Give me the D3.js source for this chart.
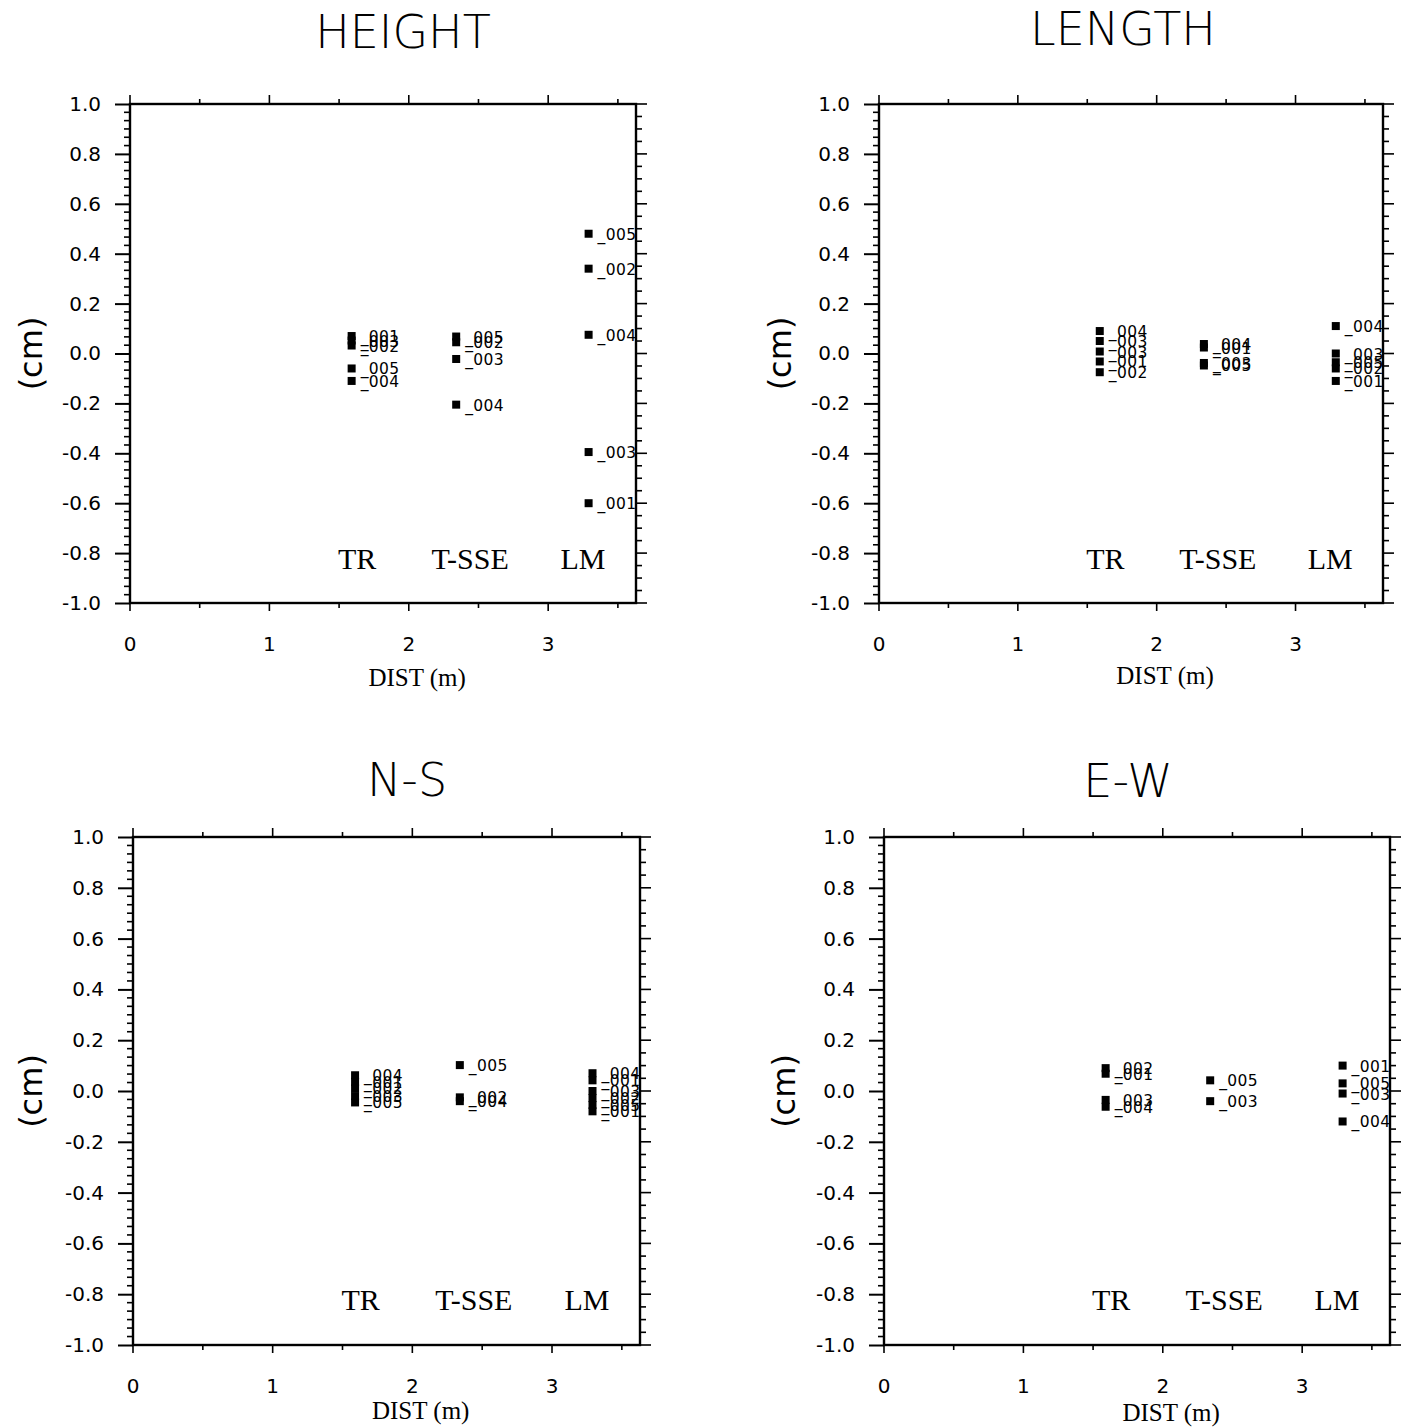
<!DOCTYPE html>
<html>
<head>
<meta charset="utf-8">
<script src="https://cdn.jsdelivr.net/npm/d3@7"></script>
<style>
  html, body { margin: 0; padding: 0; background: #fff; }
  svg { display: block; }
</style>
</head>
<body>
<svg id="chart" width="1412" height="1427"></svg>
<script>
// ---------------- DATA ----------------
const panelTitles = ["HEIGHT", "LENGTH", "N-S", "E-W"];
const categories = ["TR", "T-SSE", "LM"];
const stationX = [1.59, 2.34, 3.29];          // DIST (m) of each station
const categoryLabelX = [1.63, 2.44, 3.25];    // where the station names are written
const categoryLabelY = -0.82;
const yTicks = [1.0, 0.8, 0.6, 0.4, 0.2, 0.0, -0.2, -0.4, -0.6, -0.8, -1.0];
const xTicks = [0, 1, 2, 3];
const xDomain = [0, 3.63];
const yDomain = [-1, 1];

// values (cm) per station [TR, T-SSE, LM]
const heightValues = [[0.07, 0.052, 0.032, -0.06, -0.11], [0.068, 0.045, -0.022, -0.205], [0.48, 0.34, 0.075, -0.395, -0.6]];
const heightLabels = [["_001", "_003", "_002", "_005", "_004"], ["_005", "_002", "_003", "_004"], ["_005", "_002", "_004", "_003", "_001"]];

const lengthValues = [[0.09, 0.05, 0.008, -0.032, -0.075], [0.038, 0.024, -0.038, -0.048], [0.11, 0.0, -0.035, -0.06, -0.11]];
const lengthLabels = [["_004", "_003", "_003", "_001", "_002"], ["_004", "_001", "_003", "_005"], ["_004", "_003", "_005", "_002", "_001"]];

const nsValues = [[0.062, 0.036, 0.01, -0.02, -0.045], [0.102, -0.025, -0.04], [0.07, 0.042, 0.0, -0.028, -0.055, -0.08]];
const nsLabels = [["_004", "_001", "_002", "_003", "_005"], ["_005", "_002", "_004"], ["_004", "_001", "_003", "_002", "_005", "_001"]];

const ewValues = [[0.09, 0.068, -0.035, -0.062], [0.042, -0.04], [0.1, 0.03, -0.01, -0.12]];
const ewLabels = [["_002", "_001", "_003", "_004"], ["_005", "_003"], ["_001", "_005", "_003", "_004"]];

const panelValues = [heightValues, lengthValues, nsValues, ewValues];
const panelLabels = [heightLabels, lengthLabels, nsLabels, ewLabels];

// ---------------- LAYOUT ----------------
const layout = [
  { left: 130, right: 636, top: 104, bottom: 603, titleX: 403, titleY: 48, cmX: 31, distDy: 83 },
  { left: 879, right: 1383, top: 104, bottom: 603, titleX: 1123, titleY: 45, cmX: 780, distDy: 81 },
  { left: 133, right: 640, top: 837, bottom: 1345, titleX: 407, titleY: 796, cmX: 31, distDy: 74 },
  { left: 884, right: 1390, top: 837, bottom: 1345, titleX: 1128, titleY: 797, cmX: 784, distDy: 76 }
];

const svg = d3.select("#chart");
const SANS = "'DejaVu Sans', Arial, sans-serif";
const SERIF = "'Liberation Serif', 'Times New Roman', serif";
const INK = "#000";

layout.forEach((L, pi) => {
  const x = d3.scaleLinear().domain(xDomain).range([L.left, L.right]);
  const y = d3.scaleLinear().domain(yDomain).range([L.bottom, L.top]);
  const g = svg.append("g");

  // title
  g.append("text").attr("x", L.titleX).attr("y", L.titleY)
    .attr("text-anchor", "middle").attr("font-family", SANS).attr("font-weight", 200)
    .attr("font-size", 46).attr("fill", INK).text(panelTitles[pi]);

  // y label
  g.append("text")
    .attr("transform", `translate(${L.cmX + 11},${(L.top + L.bottom) / 2}) rotate(-90)`)
    .attr("text-anchor", "middle").attr("font-family", SANS).attr("font-size", 32)
    .attr("fill", INK).text("(cm)");

  // left axis major ticks + labels
  const axL = d3.axisLeft(y).tickValues(yTicks).tickSize(15).tickPadding(14)
    .tickFormat(d => d.toFixed(1));
  const gl = g.append("g").attr("transform", `translate(${L.left},0)`).call(axL);
  gl.select(".domain").remove();
  gl.selectAll("line").attr("stroke", INK).attr("stroke-width", 2);
  gl.selectAll("text").attr("font-family", SANS).attr("font-size", 20).attr("fill", INK);

  // left minor ticks (6 intervals per 0.2)
  const leftMinor = d3.range(-1, 1.0001, 0.2 / 6).filter(v => Math.abs(Math.round(v * 5) - v * 5) > 0.01);
  g.selectAll(null).data(leftMinor).join("line")
    .attr("x1", L.left - 6).attr("x2", L.left)
    .attr("y1", d => y(d)).attr("y2", d => y(d))
    .attr("stroke", INK).attr("stroke-width", 1.6);

  // right axis ticks (major every 0.2, minor every 0.05)
  const rightTicks = d3.range(-1, 1.0001, 0.05);
  g.selectAll(null).data(rightTicks).join("line")
    .attr("x1", L.right)
    .attr("x2", d => L.right + (Math.abs(Math.round(d * 5) - d * 5) < 0.01 ? 11 : 6))
    .attr("y1", d => y(d)).attr("y2", d => y(d))
    .attr("stroke", INK).attr("stroke-width", 1.6);

  // top / bottom minor ticks every 0.5
  const xt = d3.range(0, 3.6, 0.5);
  g.selectAll(null).data(xt).join("line")
    .attr("x1", d => x(d)).attr("x2", d => x(d))
    .attr("y1", L.bottom).attr("y2", d => L.bottom + (Number.isInteger(d) ? 8 : 5))
    .attr("stroke", INK).attr("stroke-width", 1.6);
  g.selectAll(null).data(xt).join("line")
    .attr("x1", d => x(d)).attr("x2", d => x(d))
    .attr("y1", L.top).attr("y2", d => L.top - (Number.isInteger(d) ? 9 : 5))
    .attr("stroke", INK).attr("stroke-width", 1.6);

  // x tick labels
  g.selectAll(null).data(xTicks).join("text")
    .attr("x", d => x(d)).attr("y", L.bottom + 48)
    .attr("text-anchor", "middle").attr("font-family", SANS).attr("font-size", 20)
    .attr("fill", INK).text(d => d);

  // x axis title
  g.append("text").attr("x", x(2.06)).attr("y", L.bottom + L.distDy)
    .attr("text-anchor", "middle").attr("font-family", SERIF).attr("font-size", 25)
    .attr("fill", INK).text("DIST (m)");

  // frame
  g.append("rect").attr("x", L.left).attr("y", L.top)
    .attr("width", L.right - L.left).attr("height", L.bottom - L.top)
    .attr("fill", "none").attr("stroke", INK).attr("stroke-width", 2.4);

  // station names
  g.selectAll(null).data(categories).join("text")
    .attr("x", (d, i) => x(categoryLabelX[i])).attr("y", y(categoryLabelY))
    .attr("dy", "0.35em")
    .attr("text-anchor", "middle").attr("font-family", SERIF).attr("font-size", 30)
    .attr("fill", INK).text(d => d);

  // clip for point labels (they run under the right-hand axis)
  const clipId = "clip" + pi;
  g.append("clipPath").attr("id", clipId).append("rect")
    .attr("x", L.left).attr("y", L.top - 20)
    .attr("width", L.right - L.left + 3).attr("height", L.bottom - L.top + 40);

  const pts = [];
  panelValues[pi].forEach((vals, si) => {
    vals.forEach((v, k) => pts.push({ x: stationX[si], v: v, label: panelLabels[pi][si][k] }));
  });

  g.selectAll(null).data(pts).join("rect")
    .attr("x", d => x(d.x) - 4).attr("y", d => y(d.v) - 4)
    .attr("width", 8).attr("height", 8).attr("fill", INK);

  g.append("g").attr("clip-path", `url(#${clipId})`)
    .selectAll("text").data(pts).join("text")
    .attr("x", d => x(d.x) + 9).attr("y", d => y(d.v) + 6)
    .attr("font-family", SANS).attr("font-size", 15.5).attr("letter-spacing", 0.4)
    .attr("fill", INK).text(d => d.label);
});
</script>
</body>
</html>
